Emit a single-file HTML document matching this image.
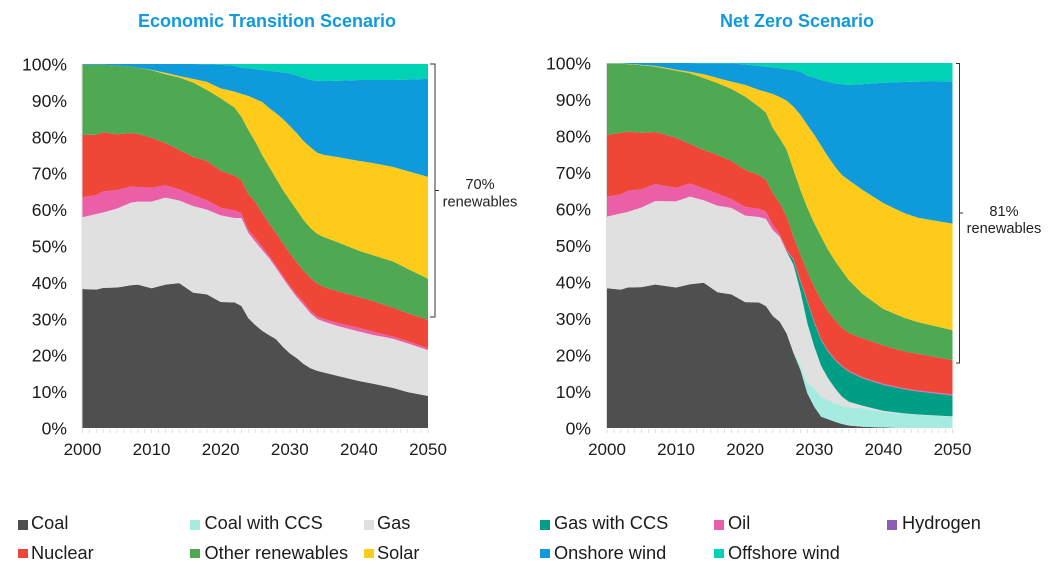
<!DOCTYPE html>
<html lang="en">
<head>
<meta charset="utf-8">
<title>Power generation mix scenarios</title>
<style>
html,body{margin:0;padding:0;background:#fff;}
#stage{position:relative;width:1053px;height:564px;overflow:hidden;background:#fff;font-family:"Liberation Sans",sans-serif;}
#stage svg{position:absolute;left:0;top:0;}
.swatch{position:absolute;width:9.5px;height:9.5px;}
.legend-label{position:absolute;font-size:18.2px;line-height:22px;color:#1c1c1c;white-space:nowrap;}
</style>
</head>
<body>
<div id="stage">
<svg id="plot" width="1053" height="564" viewBox="0 0 1053 564" xmlns="http://www.w3.org/2000/svg">
  <text x="267" y="27" text-anchor="middle" font-family="Liberation Sans" font-weight="700" font-size="18" fill="#0f9bdb">Economic Transition Scenario</text>
  <text x="797" y="27" text-anchor="middle" font-family="Liberation Sans" font-weight="700" font-size="18" fill="#0f9bdb">Net Zero Scenario</text>
  <path d="M430 64H435V317H430M435 190.5H439" fill="none" stroke="#333" stroke-width="1"/>
  <text x="480" y="189" text-anchor="middle" font-family="Liberation Sans" font-size="14.6" fill="#222">70%</text>
  <text x="480" y="206.5" text-anchor="middle" font-family="Liberation Sans" font-size="14.6" fill="#222">renewables</text>
  <path d="M956 63.5H959.5V363H956M959.5 213H963" fill="none" stroke="#333" stroke-width="1"/>
  <text x="1004" y="216" text-anchor="middle" font-family="Liberation Sans" font-size="14.6" fill="#222">81%</text>
  <text x="1004" y="233" text-anchor="middle" font-family="Liberation Sans" font-size="14.6" fill="#222">renewables</text>
</svg>

<div class="swatch" style="left:18px;top:520px;background:#4f4f4f"></div>
<div class="legend-label" style="left:31px;top:512px">Coal</div>
<div class="swatch" style="left:190px;top:520px;background:#a5ebdf"></div>
<div class="legend-label" style="left:204.5px;top:512px">Coal with CCS</div>
<div class="swatch" style="left:364px;top:520px;background:#e0e0e0"></div>
<div class="legend-label" style="left:377px;top:512px">Gas</div>
<div class="swatch" style="left:540px;top:520px;background:#009e85"></div>
<div class="legend-label" style="left:554px;top:512px">Gas with CCS</div>
<div class="swatch" style="left:714px;top:520px;background:#ea5fa8"></div>
<div class="legend-label" style="left:728px;top:512px">Oil</div>
<div class="swatch" style="left:887px;top:520px;background:#8b5fb8"></div>
<div class="legend-label" style="left:902px;top:512px">Hydrogen</div>

<div class="swatch" style="left:18px;top:548.5px;background:#ef4638"></div>
<div class="legend-label" style="left:31px;top:541.5px">Nuclear</div>
<div class="swatch" style="left:190px;top:548.5px;background:#4fa953"></div>
<div class="legend-label" style="left:204.5px;top:541.5px">Other renewables</div>
<div class="swatch" style="left:364px;top:548.5px;background:#fecb1b"></div>
<div class="legend-label" style="left:377px;top:541.5px">Solar</div>
<div class="swatch" style="left:540px;top:548.5px;background:#0f9bdb"></div>
<div class="legend-label" style="left:554px;top:541.5px">Onshore wind</div>
<div class="swatch" style="left:714px;top:548.5px;background:#00d2b4"></div>
<div class="legend-label" style="left:728px;top:541.5px">Offshore wind</div>
</div>

<script>
var percentTicks = [0, 10, 20, 30, 40, 50, 60, 70, 80, 90, 100];
var yearTicks = [2000, 2010, 2020, 2030, 2040, 2050];

/* Economic Transition Scenario: percent share of each source */
var etsYears = [2000,2002,2003,2005,2007,2008,2010,2012,2014,2016,2018,2020,2022,2023,2024,2025,2026,2027,2028,2029,2030,2031,2032,2033,2034,2035,2037,2040,2042,2045,2047,2050];
var etsCoal = [38.2,38.0,38.5,38.6,39.2,39.4,38.4,39.4,39.8,37.2,36.7,34.6,34.5,33.5,30.2,28.3,26.7,25.5,24.4,22.3,20.5,19.2,17.6,16.4,15.7,15.2,14.3,12.9,12.2,11.0,9.9,8.8];
var etsCoalCcs = [0,0,0,0,0,0,0,0,0,0,0,0,0,0,0,0,0,0,0,0,0,0,0,0,0,0,0,0,0,0,0,0];
var etsGas = [19.7,20.8,20.7,21.7,22.7,22.8,23.8,23.9,22.7,23.8,23.3,23.8,23.2,24.2,23.4,22.9,22.2,21.2,19.6,18.9,18.0,16.8,16.2,15.1,14.2,14.0,13.7,13.6,13.4,13.5,13.4,12.6];
var etsGasCcs = [0,0,0,0,0,0,0,0,0,0,0,0,0,0,0,0,0,0,0,0,0,0,0,0,0,0,0,0,0,0,0,0];
var etsOil = [5.5,5.2,5.8,5.1,4.4,4.0,3.8,3.4,3.1,3.0,2.6,2.1,2.1,1.3,0.8,1.0,0.9,0.6,0.6,0.6,0.6,0.6,0.8,0.7,0.7,0.7,0.8,1.0,0.9,0.6,0.6,0.5];
var etsHydrogen = [0,0,0,0,0,0,0,0,0,0,0,0,0,0,0,0,0,0,0,0,0,0,0,0,0,0,0,0,0,0,0,0];
var etsNuclear = [17.1,16.6,16.2,15.3,14.7,14.6,13.7,11.6,10.8,10.5,10.8,10.2,9.5,9.1,9.9,10.0,9.3,9.0,9.0,9.0,8.9,9.0,8.6,9.0,9.0,8.8,8.7,8.5,8.4,7.9,7.7,7.8];
var etsOther = [19.3,19.2,18.6,18.9,18.3,18.2,18.6,18.9,19.9,20.4,19.5,19.9,18.7,17.4,17.6,16.5,15.9,15.5,15.0,14.6,14.6,14.3,13.9,13.7,13.7,13.7,13.5,12.7,12.6,12.7,12.2,11.3];
var etsSolar = [0,0,0,0,0,0,0.1,0.4,0.4,1.0,2.2,2.7,4.4,6.3,9.3,11.7,14.6,16.1,17.9,19.5,20.4,21.1,21.7,22.2,22.3,22.6,23.4,24.7,25.3,26.0,26.8,28.0];
var etsOnshore = [0.2,0.2,0.2,0.4,0.7,1.0,1.6,2.4,3.3,4.1,4.8,6.5,7.1,7.2,7.6,8.2,8.8,10.2,11.4,12.8,14.4,15.8,17.4,18.5,19.8,20.3,21.0,22.2,22.8,23.9,25.1,26.9];
var etsOffshore = [0,0,0,0,0,0,0,0,0,0,0.1,0.2,0.5,1.0,1.2,1.4,1.6,1.9,2.1,2.3,2.6,3.2,3.8,4.4,4.6,4.7,4.6,4.4,4.4,4.4,4.3,4.1];

/* Net Zero Scenario: percent share of each source */
var nzYears = [2000,2002,2003,2005,2007,2010,2012,2014,2016,2018,2020,2022,2023,2024,2025,2026,2027,2028,2029,2030,2031,2032,2033,2034,2035,2037,2040,2043,2045,2050];
var nzCoal = [38.3,37.9,38.5,38.6,39.3,38.5,39.4,39.8,37.2,36.6,34.5,34.4,33.4,30.7,29.1,25.9,20.5,15.9,9.5,5.8,3.1,2.4,1.7,1.1,0.7,0.35,0.15,0,0,0];
var nzCoalCcs = [0,0,0,0,0,0,0,0,0,0,0,0,0,0,0,0.1,0.4,1.3,2.8,5.2,5.3,5.3,5.1,5.0,4.9,5.05,4.15,3.9,3.6,3.1];
var nzGas = [19.6,20.9,20.7,21.8,22.9,23.6,24.0,22.6,23.7,23.7,23.7,23.4,23.9,23.5,23.3,22.3,23.8,20.2,16.4,11.3,8.6,5.9,4.1,2.5,1.6,0.7,0.4,0.1,0.1,0.1];
var nzGasCcs = [0,0,0,0,0,0,0,0,0,0,0,0,0,0,0,0.2,1.3,2.6,5.9,6.5,7.0,7.3,7.7,8.2,8.2,7.5,7.1,6.6,6.3,5.7];
var nzOil = [5.5,5.2,5.8,5.0,4.6,3.7,3.6,3.2,3.3,2.4,2.4,2.2,2.0,1.4,0.7,0.3,0.2,0.2,0.2,0.2,0.2,0.2,0.2,0.2,0.2,0.2,0.2,0.2,0.2,0.2];
var nzHydrogen = [0,0,0,0,0,0,0,0,0,0,0,0,0,0,0,0,0.1,0.1,0.1,0.1,0.1,0.1,0.1,0.1,0.1,0.1,0.1,0.1,0.1,0.1];
var nzNuclear = [16.9,16.9,16.2,15.5,14.3,13.7,10.8,10.6,10.6,10.5,10.1,9.3,8.8,8.7,8.5,9.1,6.1,7.1,7.9,9.6,10.7,10.7,10.7,10.4,10.3,10.7,10.5,10.1,10.0,9.4];
var nzOther = [19.5,18.9,18.5,18.5,17.9,18.4,19.4,19.7,19.7,19.7,20.1,18.7,18.3,17.9,17.8,18.3,18.3,17.8,17.5,17.4,17.4,16.9,16.2,15.6,14.5,12.1,10.0,9.2,8.7,8.2];
var nzSolar = [0.1,0.1,0.1,0.1,0.2,0.3,0.4,1.0,1.4,2.0,3.2,4.6,5.7,9.3,11.3,13.5,17.3,20.6,22.7,24.2,24.9,25.5,25.8,26.2,27.4,28.5,29.0,28.7,28.6,29.2];
var nzOnshore = [0.1,0.1,0.2,0.5,0.8,1.8,2.4,3.0,4.0,5.0,5.6,6.6,6.9,7.3,7.9,8.6,10.1,11.8,13.5,15.7,18.0,20.6,22.8,24.9,26.1,29.0,33.0,35.9,37.3,39.0];
var nzOffshore = [0,0,0,0,0,0,0,0.1,0.1,0.1,0.4,0.8,1.0,1.2,1.4,1.7,1.9,2.4,3.5,4.0,4.7,5.1,5.6,5.8,6.0,5.8,5.4,5.2,5.1,5.0];

var seriesNames = ['coal','coal-with-ccs','gas','gas-with-ccs','oil','hydrogen','nuclear','other-renewables','solar','onshore-wind','offshore-wind'];
var seriesColors = ['#4f4f4f','#a5ebdf','#e0e0e0','#009e85','#ea5fa8','#8b5fb8','#ef4638','#4fa953','#fecb1b','#0f9bdb','#00d2b4'];

var SVGNS = 'http://www.w3.org/2000/svg';
var plot = document.getElementById('plot');

function drawChart(prefix, years, stack, left, right, top, bottom, labelRight) {
  function xScale(year) { return left + (year - 2000) / 50 * (right - left); }
  function yScale(pct) { return bottom - pct / 100 * (bottom - top); }

  var totals = years.map(function (_, i) {
    return stack.reduce(function (sum, s) { return sum + s[i]; }, 0);
  });
  var base = years.map(function () { return 0; });

  stack.forEach(function (values, k) {
    var upper = values.map(function (v, i) { return base[i] + v / totals[i] * 100; });
    var pts = [];
    years.forEach(function (y, i) { pts.push(xScale(y).toFixed(2) + ',' + yScale(upper[i]).toFixed(2)); });
    for (var i = years.length - 1; i >= 0; i--) {
      pts.push(xScale(years[i]).toFixed(2) + ',' + yScale(base[i]).toFixed(2));
    }
    var area = document.createElementNS(SVGNS, 'polygon');
    area.setAttribute('points', pts.join(' '));
    area.setAttribute('fill', seriesColors[k]);
    
    
    plot.appendChild(area);
    base = upper;
  });

  var yAxis = document.createElementNS(SVGNS, 'line');
  yAxis.setAttribute('x1', left - 0.5);
  yAxis.setAttribute('x2', left - 0.5);
  yAxis.setAttribute('y1', top);
  yAxis.setAttribute('y2', bottom);
  yAxis.setAttribute('stroke', '#dddddd');
  
  
  plot.appendChild(yAxis);

  for (var yr = 2000; yr <= 2050; yr++) {
    var tick = document.createElementNS(SVGNS, 'line');
    tick.setAttribute('x1', xScale(yr));
    tick.setAttribute('x2', xScale(yr));
    tick.setAttribute('y1', bottom + 1);
    tick.setAttribute('y2', bottom + 5);
    tick.setAttribute('stroke', '#dedede');
    
    
    plot.appendChild(tick);
  }

  percentTicks.forEach(function (p) {
    var t = document.createElementNS(SVGNS, 'text');
    t.setAttribute('x', labelRight);
    t.setAttribute('y', yScale(p) + 6.5);
    t.setAttribute('text-anchor', 'end');
    t.setAttribute('font-family', 'Liberation Sans');
    t.setAttribute('font-size', '17.6');
    t.setAttribute('fill', '#1c1c1c');
    
    
    t.textContent = p + '%';
    plot.appendChild(t);
  });

  yearTicks.forEach(function (y) {
    var t = document.createElementNS(SVGNS, 'text');
    t.setAttribute('x', xScale(y));
    t.setAttribute('y', bottom + 27);
    t.setAttribute('text-anchor', 'middle');
    t.setAttribute('font-family', 'Liberation Sans');
    t.setAttribute('font-size', '17');
    t.setAttribute('fill', '#1c1c1c');
    
    
    t.textContent = y;
    plot.appendChild(t);
  });
}

drawChart('economic-transition', etsYears,
  [etsCoal, etsCoalCcs, etsGas, etsGasCcs, etsOil, etsHydrogen, etsNuclear, etsOther, etsSolar, etsOnshore, etsOffshore],
  82.5, 428, 64, 428, 67);
drawChart('net-zero', nzYears,
  [nzCoal, nzCoalCcs, nzGas, nzGasCcs, nzOil, nzHydrogen, nzNuclear, nzOther, nzSolar, nzOnshore, nzOffshore],
  607, 952.5, 63, 428, 591);
</script>
</body>
</html>
